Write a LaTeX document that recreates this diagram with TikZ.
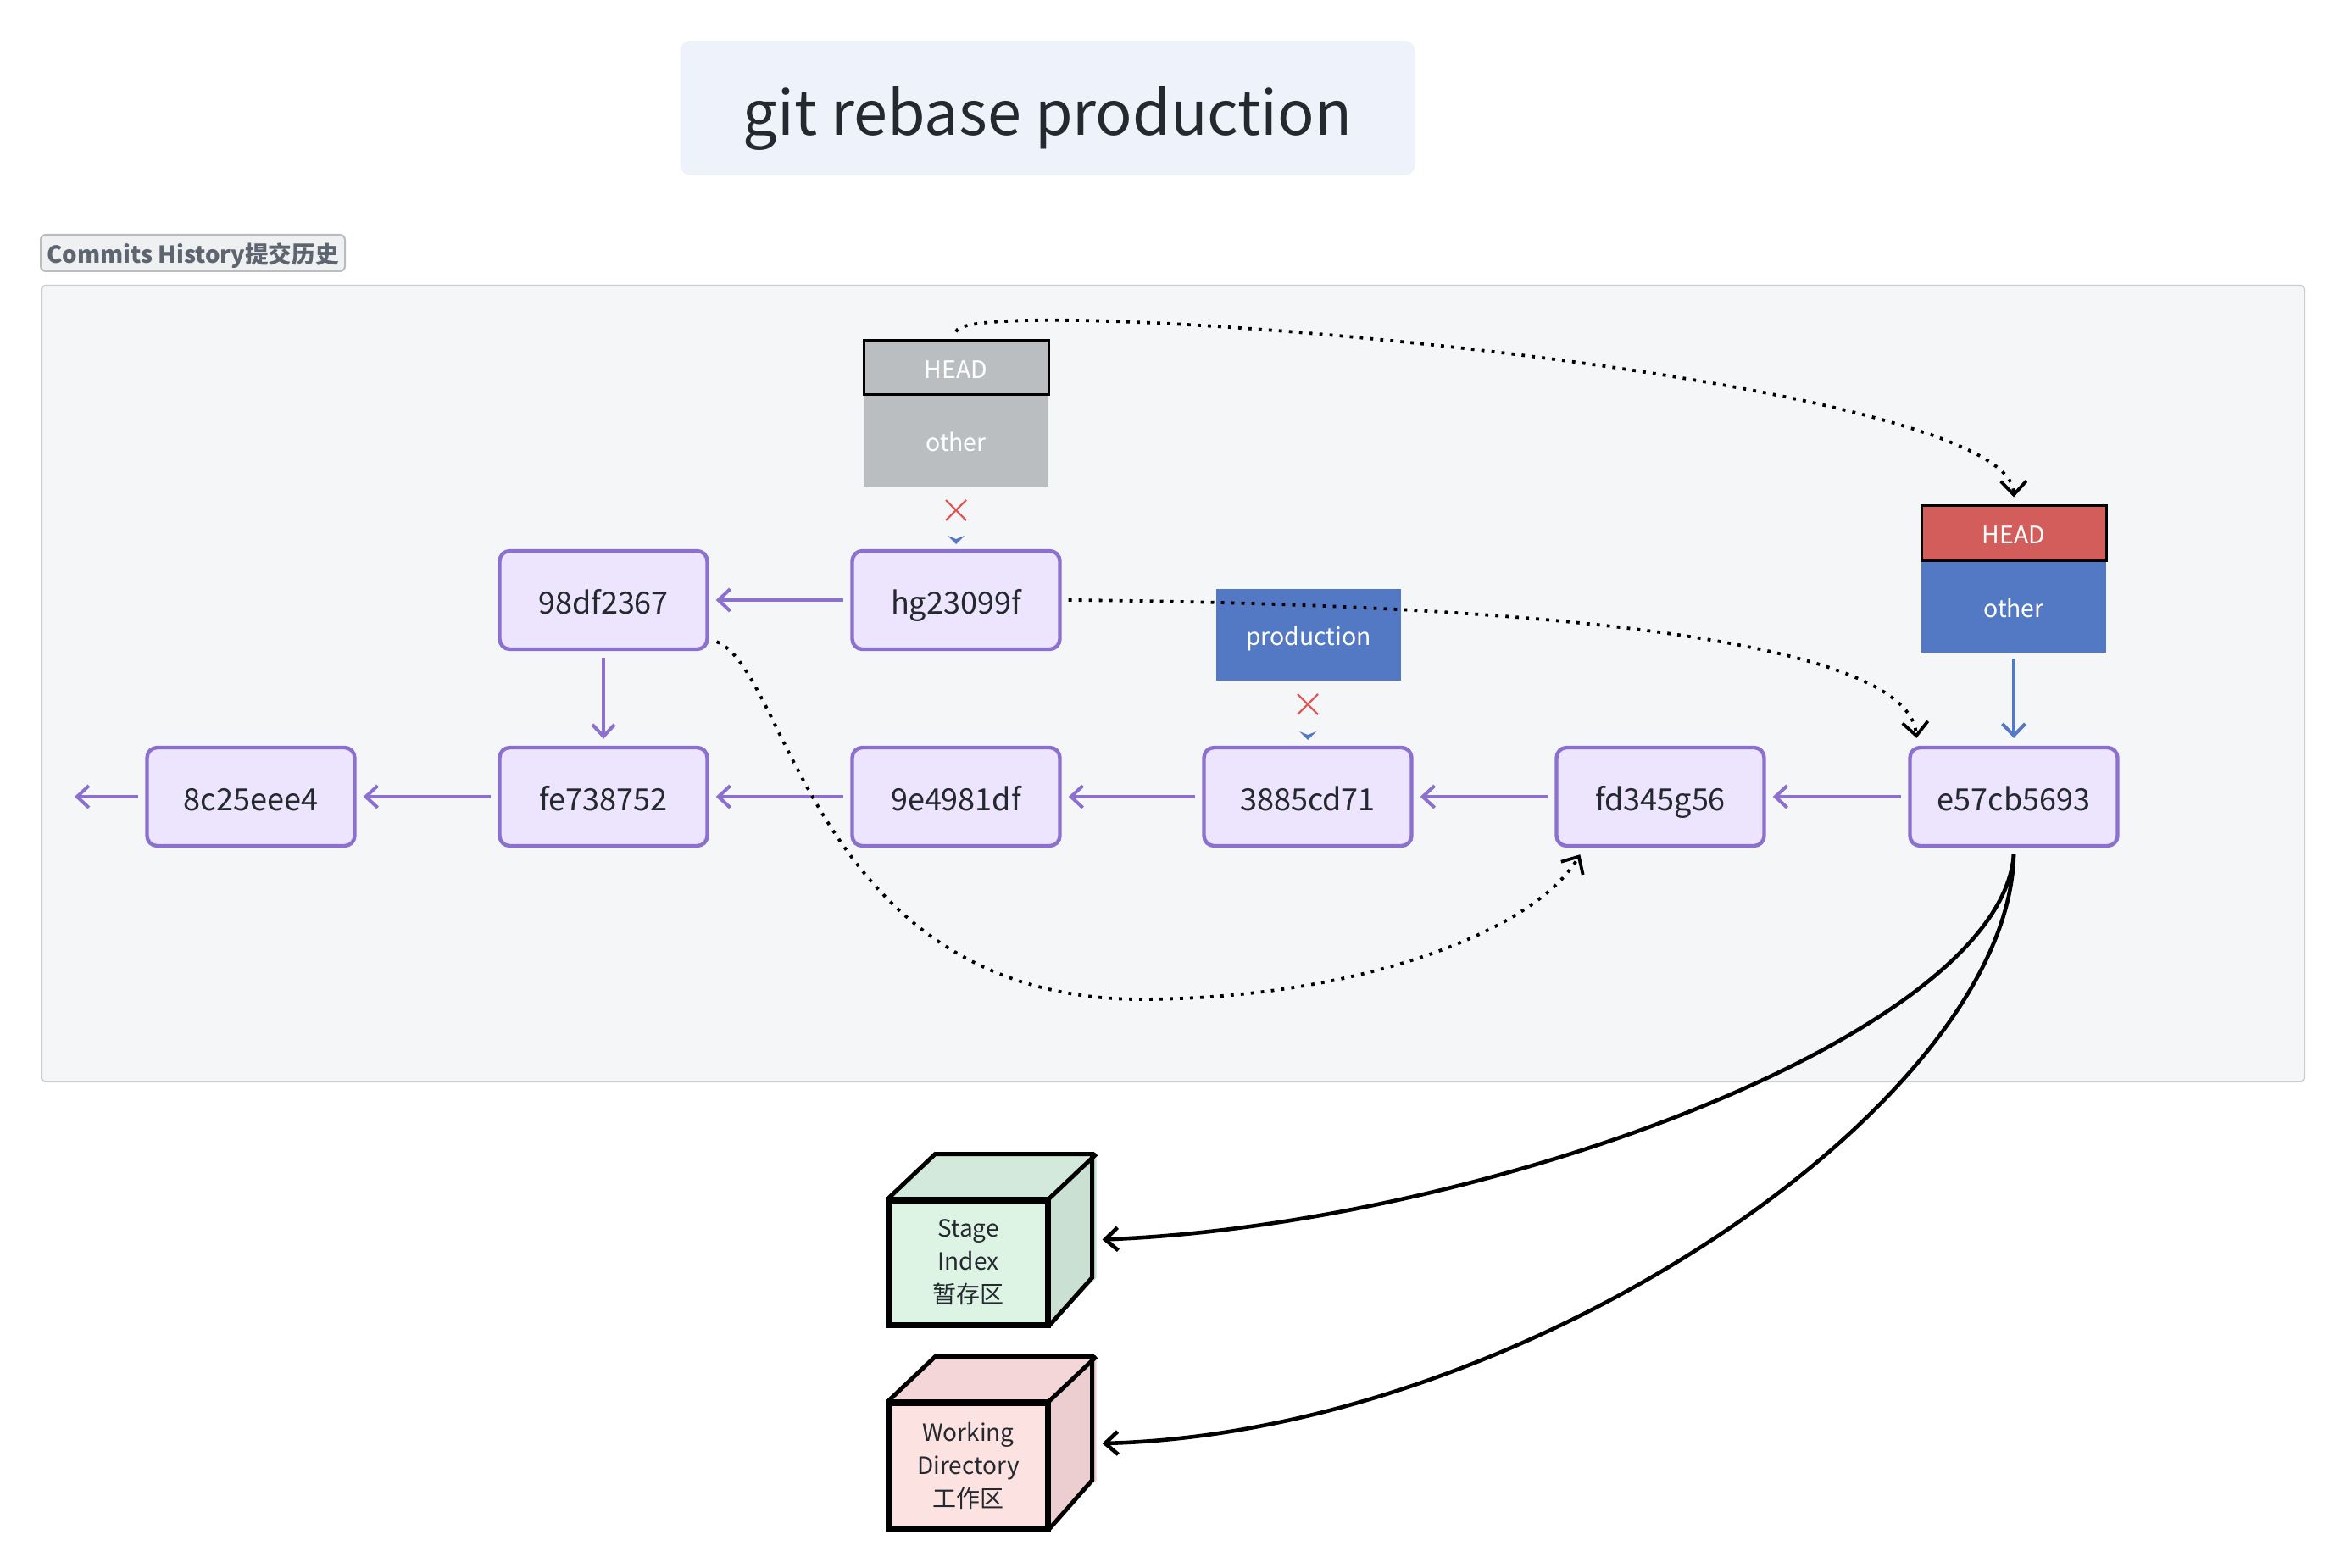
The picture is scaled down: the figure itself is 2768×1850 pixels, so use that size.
\documentclass[tikz,border=0pt]{standalone}
\usepackage{fontspec}
\setmainfont{Noto Sans CJK SC}
\usetikzlibrary{arrows.meta}
\definecolor{cpurple}{HTML}{8B70CF}
\definecolor{clav}{HTML}{ECE5FD}
\definecolor{ctext}{HTML}{24292F}
\definecolor{cgraylab}{HTML}{BBBEC1}
\definecolor{cblue}{HTML}{5378C4}
\definecolor{cred}{HTML}{D35D5B}
\definecolor{credx}{HTML}{DC5A5A}
\definecolor{cpanel}{HTML}{F5F6F7}
\definecolor{cpanelb}{HTML}{CBCDD1}
\definecolor{ctitle}{HTML}{EEF2FA}
\definecolor{clabfill}{HTML}{EFF0F2}
\definecolor{clabdraw}{HTML}{B9BCC1}
\definecolor{clabtext}{HTML}{5E6570}
\definecolor{sfront}{HTML}{DDF4E5}
\definecolor{stop}{HTML}{D3E9DC}
\definecolor{sright}{HTML}{C9E0D2}
\definecolor{wfront}{HTML}{FDE2E2}
\definecolor{wtop}{HTML}{F4D6D8}
\definecolor{wright}{HTML}{ECCED1}
\begin{document}
\begin{tikzpicture}[x=0.5pt,y=-0.5pt,
  commit/.style={draw=cpurple, fill=clav, line width=2.2pt, rounded corners=6pt,
    minimum width=122.5pt, minimum height=58pt, inner sep=0pt,
    font=\fontsize{18}{22}\selectfont, text=ctext, text height=16.5pt, text depth=0pt},
  reflab/.style={minimum width=109pt, inner sep=0pt, text=white,
    font=\fontsize{14.2}{17}\selectfont, text height=12.5pt, text depth=0pt},
  parentarrow/.style={draw=cpurple, line width=2pt,
    -{Straight Barb[length=7pt,width=13pt]}, shorten >=4pt, shorten <=4pt},
  dotarrow/.style={draw=black, line width=1.9pt, dash pattern=on 1.9pt off 4.1pt,
    -{Straight Barb[length=8pt,width=15pt]}},
  solidarrow/.style={draw=black, line width=2.3pt,
    -{Straight Barb[length=7.5pt,width=13.5pt]}},
  redcross/.style={draw=credx, line width=1.2pt},
  cubeface/.style={draw=black, line width=2.5pt},
  cubetext/.style={font=\fontsize{14}{19.5}\selectfont, text=ctext, align=center}
]
\useasboundingbox (0,0) rectangle (2768,1850);
\fill[white] (0,0) rectangle (2768,1850);

% title
\node[fill=ctitle, rounded corners=6pt, minimum width=433.5pt, minimum height=79.5pt,
  inner sep=0pt, font=\fontsize{36}{44}\selectfont, text=ctext,
  text height=32.5pt, text depth=0pt] (title) at (1236,127.5) {git rebase production};

% panel
\node[draw=clabdraw, fill=clabfill, line width=1pt, rounded corners=3pt,
  minimum width=179.5pt, minimum height=21.5pt, inner sep=0pt,
  font=\fontsize{13.8}{16}\bfseries\selectfont, text=clabtext,
  text height=12.5pt, text depth=0pt] (histlab) at (227.5,298.5) {Commits History提交历史};
\node[draw=cpanelb, fill=cpanel, line width=1pt, rounded corners=2pt,
  minimum width=1335pt, minimum height=469.5pt, inner sep=0pt] (panel) at (1384,806.5) {};

% commits
\node[commit] (c8c) at (296,940) {8c25eee4};
\node[commit] (cfe) at (712,940) {fe738752};
\node[commit] (c9e) at (1128,940) {9e4981df};
\node[commit] (c38) at (1543,940) {3885cd71};
\node[commit] (cfd) at (1959,940) {fd345g56};
\node[commit] (ce5) at (2376,940) {e57cb5693};
\node[commit] (c98) at (712,708) {98df2367};
\node[commit] (chg) at (1128,708) {hg23099f};

% parent links
\coordinate (lend) at (88,940);
\draw[parentarrow, shorten >=0pt] (c8c) -- (lend);
\draw[parentarrow] (cfe) -- (c8c);
\draw[parentarrow] (c9e) -- (cfe);
\draw[parentarrow] (c38) -- (c9e);
\draw[parentarrow] (cfd) -- (c38);
\draw[parentarrow] (ce5) -- (cfd);
\draw[parentarrow] (chg) -- (c98);
\draw[parentarrow] (c98) -- (cfe);

% old HEAD -> other (gray)
\node[reflab, fill=cgraylab, minimum height=53.5pt] (gother) at (1128,520.5) {other};
\node[reflab, fill=cgraylab, draw=black, line width=1.5pt, minimum height=32pt] (ghead) at (1128,434) {HEAD};
\coordinate (x1) at (1128,602);
\draw[redcross] ([shift={(-12,-12)}]x1) -- ([shift={(12,12)}]x1);
\draw[redcross] ([shift={(12,-12)}]x1) -- ([shift={(-12,12)}]x1);
\coordinate (t1) at (1128,642);
\fill[cblue] ([shift={(-10,-10)}]t1) -- (t1) -- ([shift={(10,-10)}]t1) -- ([shift={(0,-6)}]t1) -- cycle;

% production
\node[reflab, fill=cblue, minimum height=54pt] (prod) at (1544,749) {production};
\coordinate (x2) at (1543,831);
\draw[redcross] ([shift={(-12,-12)}]x2) -- ([shift={(12,12)}]x2);
\draw[redcross] ([shift={(12,-12)}]x2) -- ([shift={(-12,12)}]x2);
\coordinate (t2) at (1543,873);
\fill[cblue] ([shift={(-10,-10)}]t2) -- (t2) -- ([shift={(10,-10)}]t2) -- ([shift={(0,-6)}]t2) -- cycle;

% new HEAD -> other
\node[reflab, fill=cblue, minimum height=54.5pt] (bother) at (2376,715.5) {other};
\node[reflab, fill=cred, draw=black, line width=1.5pt, minimum height=32pt] (rhead) at (2376,629) {HEAD};
\draw[draw=cblue, line width=2pt, -{Straight Barb[length=7pt,width=13.5pt]},
  shorten <=3.5pt, shorten >=4.5pt] (bother) -- (ce5);

% dotted moves
\draw[dotarrow] ([yshift=4.5pt]ghead.north) .. controls (1138,340) and (2374,440) .. ([yshift=4.5pt]rhead.north);
\draw[dotarrow] ([xshift=4pt]chg.east) .. controls (1700,712) and (2250,740) .. ([xshift=5pt,yshift=4.5pt]ce5.north west);
\draw[dotarrow] ([xshift=4.5pt,yshift=5.5pt]c98.south east) .. controls (930,790) and (960,1175) .. (1342,1179)
  .. controls (1600,1179) and (1810,1100) .. ([xshift=15pt,yshift=-4pt]cfd.south west);

% cubes
\node[cubeface, fill=sfront, minimum width=92.5pt, minimum height=72.5pt, inner sep=0pt] (stage) at (1142.5,1489.5) {};
\fill[stop] (stage.north west) -- ++(56,-53) -- ++(185,0) -- (stage.north east) -- cycle;
\fill[sright] (stage.north east) -- ++(56,-53) -- ++(0,146) -- (stage.south east) -- cycle;
\draw[cubeface, line join=miter] (stage.north west) -- ++(56,-53) -- ++(185,0) -- ++(0,146) -- (stage.south east);
\draw[cubeface] (stage.north east) -- ++(56,-53);
\draw[cubeface] (stage.south west) rectangle (stage.north east);
\node[cubetext] (stagetext) at (stage.center) {Stage\\Index\\暂存区};

\node[cubeface, fill=wfront, minimum width=92.5pt, minimum height=73pt, inner sep=0pt] (work) at (1142.5,1729) {};
\fill[wtop] (work.north west) -- ++(56,-53) -- ++(185,0) -- (work.north east) -- cycle;
\fill[wright] (work.north east) -- ++(56,-53) -- ++(0,146) -- (work.south east) -- cycle;
\draw[cubeface, line join=miter] (work.north west) -- ++(56,-53) -- ++(185,0) -- ++(0,146) -- (work.south east);
\draw[cubeface] (work.north east) -- ++(56,-53);
\draw[cubeface] (work.south west) rectangle (work.north east);
\node[cubetext] (worktext) at (work.center) {Working\\Directory\\工作区};

% reset arrows
\coordinate (stagein) at ([xshift=31.5pt,yshift=13.5pt]stage.east);
\coordinate (workin) at ([xshift=31.5pt,yshift=13pt]work.east);
\draw[solidarrow] ([yshift=-4pt]ce5.south) .. controls (2360,1220) and (1750,1445) .. (stagein);
\draw[solidarrow] ([yshift=-4pt]ce5.south) .. controls (2370,1300) and (1800,1690) .. (workin);
\end{tikzpicture}
\end{document}
